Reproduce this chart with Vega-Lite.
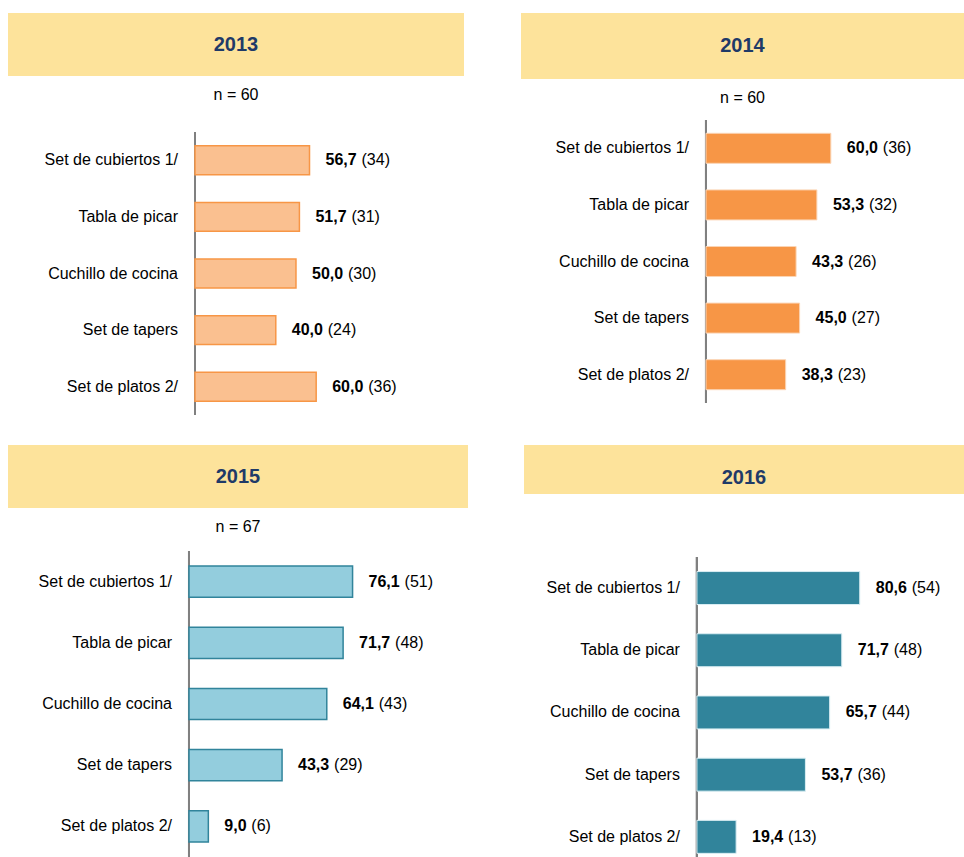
{
  "$schema": "https://vega.github.io/schema/vega-lite/v6.json",
  "padding": {"left": 8, "top": 13, "right": 0, "bottom": 0},
  "background": "white",
  "config": {
    "font": "Liberation Sans, Arial, sans-serif",
    "view": {"stroke": null},
    "locale": {"number": {"decimal": ",", "thousands": ".", "grouping": [3], "currency": ["", ""]}},
    "title": {"fontSize": 16, "fontWeight": "normal", "color": "#000000", "anchor": "middle", "frame": "group", "baseline": "alphabetic"},
    "text": {"fontSize": 16, "color": "#000000"}
  },
  "datasets": {
    "d": [
      {"year": 2013, "item": "Set de cubiertos 1/", "pct": 56.7, "n": 34},
      {"year": 2013, "item": "Tabla de picar", "pct": 51.7, "n": 31},
      {"year": 2013, "item": "Cuchillo de cocina", "pct": 50.0, "n": 30},
      {"year": 2013, "item": "Set de tapers", "pct": 40.0, "n": 24},
      {"year": 2013, "item": "Set de platos 2/", "pct": 60.0, "n": 36},
      {"year": 2014, "item": "Set de cubiertos 1/", "pct": 60.0, "n": 36},
      {"year": 2014, "item": "Tabla de picar", "pct": 53.3, "n": 32},
      {"year": 2014, "item": "Cuchillo de cocina", "pct": 43.3, "n": 26},
      {"year": 2014, "item": "Set de tapers", "pct": 45.0, "n": 27},
      {"year": 2014, "item": "Set de platos 2/", "pct": 38.3, "n": 23},
      {"year": 2015, "item": "Set de cubiertos 1/", "pct": 76.1, "n": 51},
      {"year": 2015, "item": "Tabla de picar", "pct": 71.7, "n": 48},
      {"year": 2015, "item": "Cuchillo de cocina", "pct": 64.1, "n": 43},
      {"year": 2015, "item": "Set de tapers", "pct": 43.3, "n": 29},
      {"year": 2015, "item": "Set de platos 2/", "pct": 9.0, "n": 6},
      {"year": 2016, "item": "Set de cubiertos 1/", "pct": 80.6, "n": 54},
      {"year": 2016, "item": "Tabla de picar", "pct": 71.7, "n": 48},
      {"year": 2016, "item": "Cuchillo de cocina", "pct": 65.7, "n": 44},
      {"year": 2016, "item": "Set de tapers", "pct": 53.7, "n": 36},
      {"year": 2016, "item": "Set de platos 2/", "pct": 19.4, "n": 13}
    ]
  },
  "spacing": 29,
  "vconcat": [
    {
      "spacing": 57,
      "hconcat": [
        {
          "spacing": 11,
          "vconcat": [
            {
              "width": 456, "height": 63,
              "view": {"fill": "#FDE39B", "stroke": null},
              "data": {"values": [{"year": "2013"}]},
              "mark": {"type": "text", "fontSize": 20, "fontWeight": "bold", "color": "#1F3A68"},
              "encoding": {"text": {"field": "year"}}
            },
            {
              "width": 456, "height": 283,
              "title": {"text": "n = 60", "offset": 28},
              "data": {"name": "d"},
              "transform": [{"filter": "datum.year == 2013"}, {"calculate": "'(' + datum.n + ')'", "as": "nlab"}],
              "layer": [
                {"mark": {"type": "rule", "color": "#808080", "strokeWidth": 2},
                 "encoding": {"x": {"datum": 0, "type": "quantitative", "axis": null, "scale": {"domain": [-92.6, 133.2], "nice": false, "zero": false}}}},
                {"mark": {"type": "bar", "fill": "#FAC090", "stroke": "#F79646", "strokeWidth": 1.5},
                 "encoding": {
                   "x": {"field": "pct", "type": "quantitative", "axis": null, "scale": {"domain": [-92.6, 133.2], "nice": false, "zero": false}},
                   "y": {"field": "item", "type": "nominal", "sort": null, "axis": null, "scale": {"paddingInner": 0.49, "paddingOuter": 0.245}}}},
                {"mark": {"type": "text", "align": "right", "dx": -17},
                 "encoding": {
                   "x": {"datum": 0, "type": "quantitative", "axis": null, "scale": {"domain": [-92.6, 133.2], "nice": false, "zero": false}},
                   "y": {"field": "item", "type": "nominal", "sort": null, "axis": null, "scale": {"paddingInner": 0.49, "paddingOuter": 0.245}},
                   "text": {"field": "item"}}},
                {"mark": {"type": "text", "align": "left", "dx": 16, "fontWeight": "bold"},
                 "encoding": {
                   "x": {"field": "pct", "type": "quantitative", "axis": null, "scale": {"domain": [-92.6, 133.2], "nice": false, "zero": false}},
                   "y": {"field": "item", "type": "nominal", "sort": null, "axis": null, "scale": {"paddingInner": 0.49, "paddingOuter": 0.245}},
                   "text": {"field": "pct", "type": "quantitative", "format": ".1f"}}},
                {"mark": {"type": "text", "align": "left", "dx": {"expr": "datum.pct < 10 ? 43 : 52"}},
                 "encoding": {
                   "x": {"field": "pct", "type": "quantitative", "axis": null, "scale": {"domain": [-92.6, 133.2], "nice": false, "zero": false}},
                   "y": {"field": "item", "type": "nominal", "sort": null, "axis": null, "scale": {"paddingInner": 0.49, "paddingOuter": 0.245}},
                   "text": {"field": "nlab"}}}
              ]
            }
          ]
        },
        {
          "spacing": 11,
          "vconcat": [
            {
              "width": 443, "height": 66,
              "view": {"fill": "#FDE39B", "stroke": null},
              "data": {"values": [{"year": "2014"}]},
              "mark": {"type": "text", "fontSize": 20, "fontWeight": "bold", "color": "#1F3A68"},
              "encoding": {"text": {"field": "year"}}
            },
            {
              "width": 443, "height": 283,
              "title": {"text": "n = 60", "offset": 13},
              "data": {"name": "d"},
              "transform": [{"filter": "datum.year == 2014"}, {"calculate": "'(' + datum.n + ')'", "as": "nlab"}],
              "layer": [
                {"mark": {"type": "rule", "color": "#808080", "strokeWidth": 2},
                 "encoding": {"x": {"datum": 0, "type": "quantitative", "axis": null, "scale": {"domain": [-88.9, 124.0], "nice": false, "zero": false}}}},
                {"mark": {"type": "bar", "fill": "#F79646", "stroke": "#FBD4B4", "strokeWidth": 1},
                 "encoding": {
                   "x": {"field": "pct", "type": "quantitative", "axis": null, "scale": {"domain": [-88.9, 124.0], "nice": false, "zero": false}},
                   "y": {"field": "item", "type": "nominal", "sort": null, "axis": null, "scale": {"paddingInner": 0.47, "paddingOuter": 0.235}}}},
                {"mark": {"type": "text", "align": "right", "dx": -17},
                 "encoding": {
                   "x": {"datum": 0, "type": "quantitative", "axis": null, "scale": {"domain": [-88.9, 124.0], "nice": false, "zero": false}},
                   "y": {"field": "item", "type": "nominal", "sort": null, "axis": null, "scale": {"paddingInner": 0.47, "paddingOuter": 0.235}},
                   "text": {"field": "item"}}},
                {"mark": {"type": "text", "align": "left", "dx": 16, "fontWeight": "bold"},
                 "encoding": {
                   "x": {"field": "pct", "type": "quantitative", "axis": null, "scale": {"domain": [-88.9, 124.0], "nice": false, "zero": false}},
                   "y": {"field": "item", "type": "nominal", "sort": null, "axis": null, "scale": {"paddingInner": 0.47, "paddingOuter": 0.235}},
                   "text": {"field": "pct", "type": "quantitative", "format": ".1f"}}},
                {"mark": {"type": "text", "align": "left", "dx": {"expr": "datum.pct < 10 ? 43 : 52"}},
                 "encoding": {
                   "x": {"field": "pct", "type": "quantitative", "axis": null, "scale": {"domain": [-88.9, 124.0], "nice": false, "zero": false}},
                   "y": {"field": "item", "type": "nominal", "sort": null, "axis": null, "scale": {"paddingInner": 0.47, "paddingOuter": 0.235}},
                   "text": {"field": "nlab"}}}
              ]
            }
          ]
        }
      ]
    },
    {
      "spacing": 56,
      "hconcat": [
        {
          "spacing": 11,
          "vconcat": [
            {
              "width": 460, "height": 63,
              "view": {"fill": "#FDE39B", "stroke": null},
              "data": {"values": [{"year": "2015"}]},
              "mark": {"type": "text", "fontSize": 20, "fontWeight": "bold", "color": "#1F3A68"},
              "encoding": {"text": {"field": "year"}}
            },
            {
              "width": 460, "height": 306,
              "title": {"text": "n = 67", "offset": 15},
              "data": {"name": "d"},
              "transform": [{"filter": "datum.year == 2015"}, {"calculate": "'(' + datum.n + ')'", "as": "nlab"}],
              "layer": [
                {"mark": {"type": "rule", "color": "#808080", "strokeWidth": 2},
                 "encoding": {"x": {"datum": 0, "type": "quantitative", "axis": null, "scale": {"domain": [-84.2, 129.8], "nice": false, "zero": false}}}},
                {"mark": {"type": "bar", "fill": "#93CDDD", "stroke": "#31849B", "strokeWidth": 1.5},
                 "encoding": {
                   "x": {"field": "pct", "type": "quantitative", "axis": null, "scale": {"domain": [-84.2, 129.8], "nice": false, "zero": false}},
                   "y": {"field": "item", "type": "nominal", "sort": null, "axis": null, "scale": {"paddingInner": 0.49, "paddingOuter": 0.245}}}},
                {"mark": {"type": "text", "align": "right", "dx": -17},
                 "encoding": {
                   "x": {"datum": 0, "type": "quantitative", "axis": null, "scale": {"domain": [-84.2, 129.8], "nice": false, "zero": false}},
                   "y": {"field": "item", "type": "nominal", "sort": null, "axis": null, "scale": {"paddingInner": 0.49, "paddingOuter": 0.245}},
                   "text": {"field": "item"}}},
                {"mark": {"type": "text", "align": "left", "dx": 16, "fontWeight": "bold"},
                 "encoding": {
                   "x": {"field": "pct", "type": "quantitative", "axis": null, "scale": {"domain": [-84.2, 129.8], "nice": false, "zero": false}},
                   "y": {"field": "item", "type": "nominal", "sort": null, "axis": null, "scale": {"paddingInner": 0.49, "paddingOuter": 0.245}},
                   "text": {"field": "pct", "type": "quantitative", "format": ".1f"}}},
                {"mark": {"type": "text", "align": "left", "dx": {"expr": "datum.pct < 10 ? 43 : 52"}},
                 "encoding": {
                   "x": {"field": "pct", "type": "quantitative", "axis": null, "scale": {"domain": [-84.2, 129.8], "nice": false, "zero": false}},
                   "y": {"field": "item", "type": "nominal", "sort": null, "axis": null, "scale": {"paddingInner": 0.49, "paddingOuter": 0.245}},
                   "text": {"field": "nlab"}}}
              ]
            }
          ]
        },
        {
          "spacing": 62,
          "vconcat": [
            {
              "width": 440, "height": 49,
              "view": {"fill": "#FDE39B", "stroke": null},
              "data": {"values": [{"year": "2016"}]},
              "mark": {"type": "text", "fontSize": 20, "fontWeight": "bold", "color": "#1F3A68", "dy": 8},
              "encoding": {"text": {"field": "year"}}
            },
            {
              "width": 440, "height": 302,
              "data": {"name": "d"},
              "transform": [{"filter": "datum.year == 2016"}, {"calculate": "'(' + datum.n + ')'", "as": "nlab"}],
              "layer": [
                {"mark": {"type": "rule", "color": "#808080", "strokeWidth": 2},
                 "encoding": {"x": {"datum": 0, "type": "quantitative", "axis": null, "scale": {"domain": [-85.6, 132.2], "nice": false, "zero": false}}}},
                {"mark": {"type": "bar", "fill": "#31849B", "stroke": "#DAEEF3", "strokeWidth": 1},
                 "encoding": {
                   "x": {"field": "pct", "type": "quantitative", "axis": null, "scale": {"domain": [-85.6, 132.2], "nice": false, "zero": false}},
                   "y": {"field": "item", "type": "nominal", "sort": null, "axis": null, "scale": {"paddingInner": 0.47, "paddingOuter": 0.1625, "align": 0.72}}}},
                {"mark": {"type": "text", "align": "right", "dx": -17},
                 "encoding": {
                   "x": {"datum": 0, "type": "quantitative", "axis": null, "scale": {"domain": [-85.6, 132.2], "nice": false, "zero": false}},
                   "y": {"field": "item", "type": "nominal", "sort": null, "axis": null, "scale": {"paddingInner": 0.47, "paddingOuter": 0.1625, "align": 0.72}},
                   "text": {"field": "item"}}},
                {"mark": {"type": "text", "align": "left", "dx": 16, "fontWeight": "bold"},
                 "encoding": {
                   "x": {"field": "pct", "type": "quantitative", "axis": null, "scale": {"domain": [-85.6, 132.2], "nice": false, "zero": false}},
                   "y": {"field": "item", "type": "nominal", "sort": null, "axis": null, "scale": {"paddingInner": 0.47, "paddingOuter": 0.1625, "align": 0.72}},
                   "text": {"field": "pct", "type": "quantitative", "format": ".1f"}}},
                {"mark": {"type": "text", "align": "left", "dx": {"expr": "datum.pct < 10 ? 43 : 52"}},
                 "encoding": {
                   "x": {"field": "pct", "type": "quantitative", "axis": null, "scale": {"domain": [-85.6, 132.2], "nice": false, "zero": false}},
                   "y": {"field": "item", "type": "nominal", "sort": null, "axis": null, "scale": {"paddingInner": 0.47, "paddingOuter": 0.1625, "align": 0.72}},
                   "text": {"field": "nlab"}}}
              ]
            }
          ]
        }
      ]
    }
  ]
}
